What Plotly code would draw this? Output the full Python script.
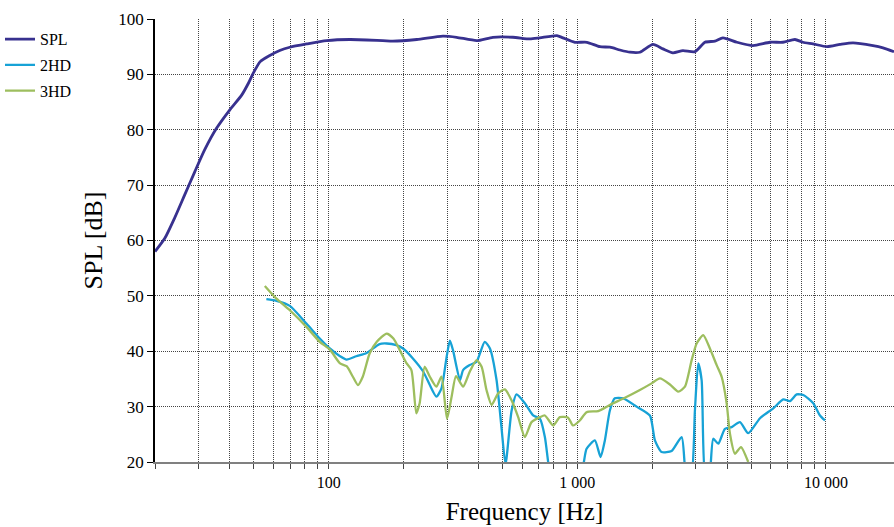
import plotly.graph_objects as go

# ---- data ----
spl_freq = [20.0, 21.9, 24.0, 26.3, 28.9, 31.7, 35.4, 40.0, 44.7, 47.5, 49.4, 53.0,
            57.9, 63.5, 69.7, 81.5, 98.1, 121.5, 164.9, 181, 226, 287.5, 327, 394,
            457, 550, 644, 706, 827, 874, 977, 1092, 1232, 1352, 1483, 1627, 1784,
            2013, 2208, 2422, 2658, 2971, 3259, 3575, 3850, 4385, 5084, 5952, 6714,
            7502, 8077, 8865, 10094, 11384, 12845, 15455, 16955, 18775]
spl_db = [58.0, 60.4, 64.1, 68.2, 72.4, 76.4, 80.3, 83.6, 86.3, 88.4, 90.0, 92.3,
          93.4, 94.3, 94.9, 95.5, 96.1, 96.3, 96.1, 96.0, 96.3, 96.9, 96.7, 96.1,
          96.7, 96.7, 96.4, 96.6, 97.0, 96.6, 95.8, 95.8, 95.0, 94.9, 94.4, 94.0, 94.0,
          95.4, 94.6, 93.9, 94.3, 94.1, 95.8, 96.0, 96.6, 95.8, 95.2, 95.8, 95.8,
          96.3, 95.8, 95.5, 95.0, 95.4, 95.7, 95.2, 94.8, 94.1]

hd2_freq = [56.1, 61.6, 69.7, 81.3, 92.0, 101, 111, 118, 129, 142, 160, 171, 187, 199,
            218, 240, 255, 271, 284, 298, 307, 316, 337, 347, 369, 393, 424, 445, 473,
            495, 514, 544, 569, 615, 664, 707, 740, 763, 812, 977, 1062, 1089, 1176,
            1240, 1290, 1351, 1415, 1529, 1731, 1958, 2051, 2183, 2394, 2627, 2751,
            2862, 2970, 3063, 3161, 3280, 3382, 3520, 3687, 3923, 4173, 4508, 4867,
            5427, 6138, 6733, 7163, 7623, 8102, 8889, 9460, 9910]
hd2_db = [49.4, 49.1, 48.2, 45.0, 42.3, 40.5, 39.1, 38.5, 39.1, 39.7, 41.3, 41.4, 41.1,
          40.5, 38.7, 36.3, 33.9, 31.8, 33.3, 39.0, 41.9, 40.2, 34.8, 36.6, 37.5, 38.1,
          41.7, 40.5, 34.8, 26.3, 19.6, 29.3, 32.2, 30.6, 28.4, 27.8, 24.5, 20.0, 12.0,
          12.0, 20.0, 22.4, 23.9, 20.9, 23.9, 29.3, 31.5, 31.5, 30.0, 28.4, 23.9, 21.8,
          22.0, 24.5, 17.0, 17.0, 29.3, 37.8, 34.8, 17.0, 17.0, 24.2, 23.3, 26.0, 26.3,
          27.2, 25.2, 27.9, 29.7, 31.3, 31.0, 32.2, 32.1, 30.6, 28.4, 27.5]

hd3_freq = [55.3, 61.6, 69.7, 81.3, 92.0, 101, 111, 118, 125, 131, 137, 146, 156, 171,
            182, 193, 205, 215, 225, 232, 243, 255, 271, 284, 299, 312, 325, 347, 369,
            393, 412, 431, 452, 480, 511, 544, 578, 615, 654, 707, 740, 799, 850, 918,
            960, 1023, 1089, 1213, 1351, 1553, 1784, 1989, 2148, 2356, 2545, 2708, 2882,
            3018, 3208, 3413, 3633, 3805, 3985, 4109, 4304, 4549, 4867]
hd3_db = [51.8, 49.5, 47.4, 44.4, 41.7, 40.3, 37.8, 37.3, 35.4, 33.9, 35.4, 39.6, 41.7,
          43.2, 42.3, 40.2, 37.9, 36.6, 28.8, 30.6, 37.2, 35.4, 33.6, 35.4, 27.8, 31.8,
          35.5, 33.6, 36.3, 38.4, 37.2, 33.0, 30.3, 32.4, 33.1, 31.1, 28.1, 24.5, 27.2,
          28.1, 28.4, 26.6, 28.1, 28.0, 26.6, 27.5, 29.0, 29.2, 30.3, 31.6, 33.0, 34.2,
          35.1, 34.0, 32.7, 33.6, 38.4, 41.4, 42.9, 40.5, 37.5, 35.4, 30.6, 25.1, 21.5,
          22.7, 20.0]

series_names = ["SPL", "2HD", "3HD"]
series_colors = ["#38318f", "#17a2d6", "#9dbe5e"]

x_grid_vals = [20, 30, 40, 50, 60, 70, 80, 90,
               100, 200, 300, 400, 500, 600, 700, 800, 900,
               1000, 2000, 3000, 4000, 5000, 6000, 7000, 8000, 9000,
               10000, 20000]
x_label_map = {100: "100", 1000: "1 000", 10000: "10 000"}
y_ticks = [20, 30, 40, 50, 60, 70, 80, 90, 100]

FONT = "Liberation Serif"

fig = go.Figure()
for i, (fx, fy) in enumerate([(spl_freq, spl_db), (hd2_freq, hd2_db), (hd3_freq, hd3_db)]):
    fig.add_trace(go.Scatter(
        x=fx, y=fy, mode="lines", name=series_names[i],
        line=dict(color=series_colors[i], width=2.8 if i == 0 else 2.3, shape="spline", smoothing=0.6),
        legendgroup=series_names[i],
    ))

fig.update_layout(
    width=894, height=527,
    margin=dict(l=155, r=0, t=19, b=65, autoexpand=False),
    paper_bgcolor="white", plot_bgcolor="white",
    font=dict(family=FONT, color="black", size=15),
    showlegend=True,
    legend=dict(xref="container", yref="container", x=0.0, y=0.958,
                xanchor="left", yanchor="top", bgcolor="rgba(0,0,0,0)",
                font=dict(family=FONT, size=16), tracegroupgap=2,
                itemwidth=30),
    xaxis=dict(
        type="log", range=[1.30103, 4.2736], automargin=False,
        tickvals=x_grid_vals,
        ticktext=[x_label_map.get(v, "") for v in x_grid_vals],
        ticks="outside", ticklen=5, tickcolor="#444", tickwidth=1,
        showgrid=True, gridcolor="#444", griddash="1px,1px", gridwidth=1,
        showline=True, linecolor="#808080", linewidth=2,
        tickfont=dict(family=FONT, size=16),
        title=dict(text="Frequency [Hz]", font=dict(family=FONT, size=25), standoff=12),
        zeroline=False,
    ),
    yaxis=dict(
        range=[20, 100], tickvals=y_ticks, automargin=False,
        ticks="outside", ticklen=6, tickcolor="black", tickwidth=1,
        showgrid=True, gridcolor="#444", griddash="1px,1px", gridwidth=1,
        showline=True, linecolor="black", linewidth=1.5,
        tickfont=dict(family=FONT, size=17),
        title=dict(text="SPL [dB]", font=dict(family=FONT, size=26), standoff=8),
        zeroline=False,
    ),
)

fig.write_html("out.html", config={"displayModeBar": False},
               post_script="document.body.style.margin='0px';document.body.style.overflow='hidden';")
